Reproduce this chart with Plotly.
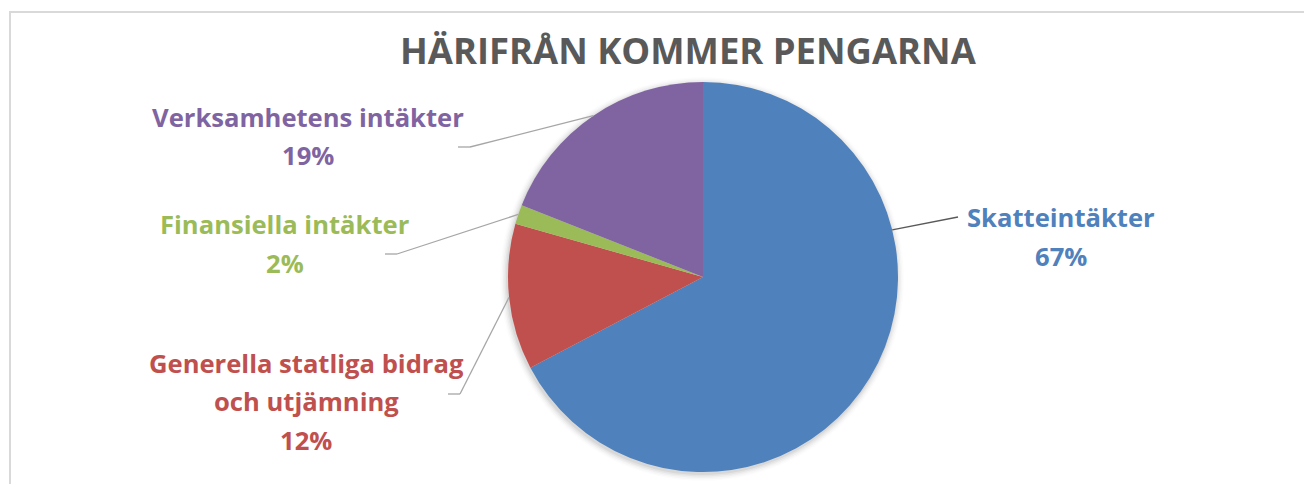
import math
import plotly.graph_objects as go

# ---------------- data ----------------
categories = ["Skatteintäkter", "Generella statliga bidrag\noch utjämning",
              "Finansiella intäkter", "Verksamhetens intäkter"]
values = [67.3, 12.1, 1.6, 19.0]
colors = ["#4F81BD", "#C0504D", "#9BBB59", "#8064A2"]
title_text = "HÄRIFRÅN KOMMER PENGARNA"

# ---------------- layout helpers ----------------
W, H = 1304, 484
CX, CY, R = 703, 277, 195


def px(x):
    return x / W


def py(y):
    return 1 - y / H


total = sum(values)
pcts = [f"{round(v / total * 100)}%" for v in values]

# label placement (pixel centre of first line) and leader elbows
label_pos = [
    dict(x=1061, y=218, elbow=(958, 217), end=(958, 217), anchor_deg=76, lc="#595959"),
    dict(x=306, y=363, elbow=(460, 394), end=(448, 394), anchor_deg=None, lc="#A6A6A6"),
    dict(x=285, y=225, elbow=(397, 254), end=(385, 254), anchor_deg=None, lc="#A6A6A6"),
    dict(x=308, y=117, elbow=(470, 147), end=(458, 147), anchor_deg=None, lc="#A6A6A6"),
]
LINE_H = 38.5

fig = go.Figure()
fig.add_trace(go.Pie(
    labels=[c.replace("\n", " ") for c in categories],
    values=values,
    sort=False,
    direction="clockwise",
    rotation=0,
    marker=dict(colors=colors, line=dict(width=0)),
    textinfo="none",
    hoverinfo="label+percent",
    showlegend=False,
    domain=dict(x=[px(CX - R), px(CX + R)], y=[py(CY + R), py(CY - R)]),
))

shapes = []
# chart frame
shapes.append(dict(type="rect", xref="paper", yref="paper",
                   x0=px(10), y0=py(H + 10), x1=px(W + 10), y1=py(12),
                   line=dict(color="#D9D9D9", width=2), layer="below"))
# soft shadow around pie
for i, a in enumerate([0.05, 0.04, 0.03, 0.02, 0.012]):
    rr = R + 1 + i * 1.5
    shapes.append(dict(type="circle", xref="paper", yref="paper",
                       x0=px(CX - 1 - rr), x1=px(CX - 1 + rr),
                       y0=py(CY + 2 + rr), y1=py(CY + 2 - rr),
                       fillcolor=f"rgba(0,0,0,{a})", line=dict(width=0), layer="below"))

annotations = []
cum = 0
for cat, v, col, pct, lp in zip(categories, values, colors, pcts, label_pos):
    mid = (cum + v / 2) / total * 360
    cum += v
    ang = lp["anchor_deg"] if lp["anchor_deg"] is not None else mid
    sx = CX + R * math.sin(math.radians(ang))
    sy = CY - R * math.cos(math.radians(ang))
    ex, ey = lp["elbow"]
    shapes.append(dict(type="line", xref="paper", yref="paper",
                       x0=px(sx), y0=py(sy), x1=px(ex), y1=py(ey),
                       line=dict(color=lp["lc"], width=1.3)))
    fx, fy = lp["end"]
    if (fx, fy) != (ex, ey):
        shapes.append(dict(type="line", xref="paper", yref="paper",
                           x0=px(ex), y0=py(ey), x1=px(fx), y1=py(fy),
                           line=dict(color=lp["lc"], width=1.3)))
    lines = cat.split("\n") + [pct]
    for i, t in enumerate(lines):
        annotations.append(dict(
            text=f"<b>{t}</b>", xref="paper", yref="paper",
            x=px(lp["x"]), y=py(lp["y"] + i * LINE_H),
            xanchor="center", yanchor="middle", showarrow=False,
            font=dict(family="Open Sans", size=25.6, color=col)))

annotations.append(dict(
    text=f"<b>{title_text}</b>", xref="paper", yref="paper",
    x=px(688.5), y=py(50), xanchor="center", yanchor="middle", showarrow=False,
    font=dict(family="Open Sans", size=36.4, color="#595959")))

fig.update_layout(
    width=W, height=H,
    margin=dict(l=0, r=0, t=0, b=0),
    paper_bgcolor="white",
    plot_bgcolor="white",
    shapes=shapes,
    annotations=annotations,
)

fig.write_html("out.html", config={"displayModeBar": False},
               post_script="document.body.style.margin='0';")
